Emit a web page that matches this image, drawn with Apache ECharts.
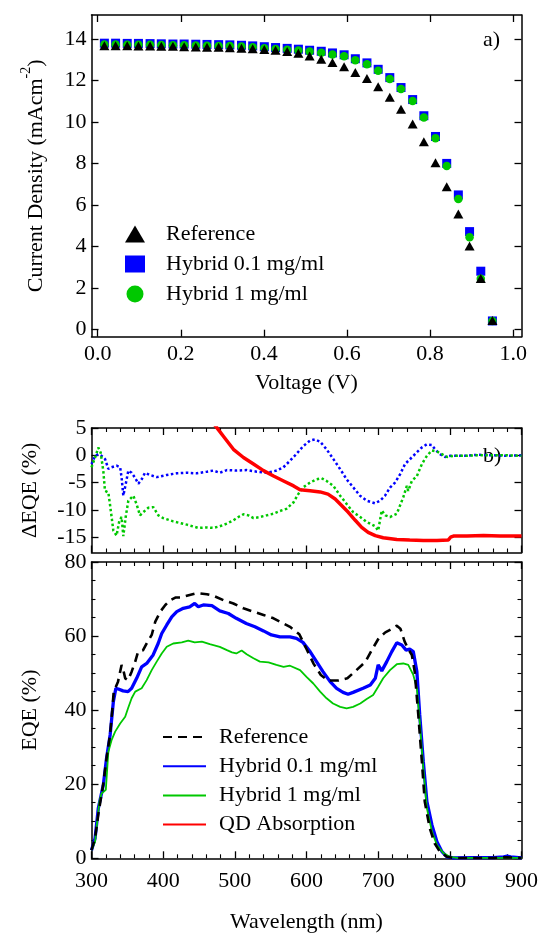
<!DOCTYPE html>
<html>
<head>
<meta charset="utf-8">
<script src="https://cdn.jsdelivr.net/npm/echarts@6.0.0/dist/echarts.min.js"></script>
<style>
  html, body { margin: 0; padding: 0; background: #fff; }
  #chart { width: 545px; height: 937px; }
</style>
</head>
<body>
<div id="chart"></div>
<script>
// ---- a) J–V curves ----
const voltage = [0.016, 0.043, 0.071, 0.098, 0.126, 0.153, 0.181, 0.208, 0.236, 0.263,
  0.291, 0.318, 0.346, 0.373, 0.401, 0.428, 0.456, 0.483, 0.510, 0.538,
  0.565, 0.593, 0.620, 0.648, 0.675, 0.703, 0.730, 0.758, 0.785, 0.813,
  0.840, 0.868, 0.895, 0.922, 0.950];
const jReference = [13.68, 13.68, 13.68, 13.67, 13.66, 13.65, 13.65, 13.63, 13.62, 13.61,
  13.60, 13.58, 13.56, 13.53, 13.50, 13.46, 13.40, 13.31, 13.18, 13.03,
  12.87, 12.66, 12.39, 12.10, 11.70, 11.19, 10.61, 9.90, 9.05, 8.03,
  6.88, 5.56, 4.02, 2.45, 0.42];
const jHybrid01 = [13.80, 13.80, 13.79, 13.79, 13.78, 13.77, 13.76, 13.76, 13.75, 13.74,
  13.73, 13.72, 13.70, 13.67, 13.63, 13.59, 13.55, 13.51, 13.46, 13.41,
  13.33, 13.24, 13.05, 12.85, 12.54, 12.14, 11.66, 11.08, 10.30, 9.30,
  8.00, 6.48, 4.71, 2.80, 0.40];
const jHybrid1 = [13.74, 13.74, 13.73, 13.73, 13.72, 13.71, 13.70, 13.70, 13.69, 13.68,
  13.67, 13.66, 13.64, 13.60, 13.56, 13.52, 13.48, 13.45, 13.40, 13.34,
  13.26, 13.17, 12.98, 12.78, 12.47, 12.07, 11.59, 11.01, 10.22, 9.21,
  7.87, 6.28, 4.44, 2.43, 0.40];
const voltageTicks = [0, 0.2, 0.4, 0.6, 0.8, 1.0];
const currentTicks = [0, 2, 4, 6, 8, 10, 12, 14];

// ---- b) EQE spectra ----
const wlReference = [300, 305, 310, 316, 321, 326, 329, 331, 334, 337, 342, 344.5, 347, 351, 356, 361, 365, 372, 377, 384,
  389, 396, 403, 410, 417, 424, 437, 445, 452, 461, 470, 484, 498, 512, 526, 540, 554, 563, 577, 590,
  600, 610, 620, 630, 645, 657, 668, 682, 692, 701, 710, 718, 726, 731, 737, 742, 747, 751, 756, 761,
  765, 772, 779, 786, 796, 805, 830, 860, 880, 900];
const eqeReference = [2.2, 5.5, 12.5, 19.5, 27, 33.5, 40, 45, 46.3, 47.7, 52.2, 50.8, 48.6, 48.1, 50.4, 53.1, 55.8, 56.2, 58, 60.3,
  63.9, 66.6, 68.4, 69.7, 70.4, 70.4, 71.1, 71.5, 71.5, 71.3, 70.9, 69.7, 68.8, 67.5, 66.6, 65.7, 64.8, 63.9, 62.5, 60.5,
  56.5, 52.5, 49.5, 48, 48, 48.6, 50.5, 53, 56.5, 59.5, 61, 61.8, 62.8, 62, 58.5, 56.5, 54.9, 50.4, 38.7, 26.1,
  15.3, 8.1, 4, 1.8, 0.4, 0.1, 0.1, 0.1, 0.3, 0.1];

const wlHybrid01 = [300, 305, 309.5, 316.5, 321, 326, 330.5, 334, 337.5, 344, 351, 356, 363, 370, 377, 386, 393, 398, 405, 412,
  419, 428, 437, 444, 449, 456, 468, 479, 491, 502, 516, 528, 540, 551, 563, 577, 586, 595, 605, 614,
  623, 633, 642, 651, 658, 665, 679, 689, 696, 700, 705, 712, 719, 726, 733, 739, 744, 749, 754, 758,
  763, 768, 775, 782, 789, 796, 805, 830, 860, 875, 880, 885, 900];
const eqeHybrid01 = [2.2, 5.4, 13.5, 19.8, 27, 33.3, 42.3, 45.9, 45.7, 45.2, 45.0, 45.9, 48.6, 51.7, 52.6, 54.9, 58, 60.7, 63, 65.2,
  66.6, 67.5, 67.9, 68.8, 67.9, 68.4, 68.2, 66.8, 66.1, 64.8, 63.4, 62.5, 61.4, 60.3, 59.8, 59.8, 59.4, 58.3, 55.8, 53.1,
  50.4, 47.7, 45.9, 44.8, 44.3, 44.8, 45.9, 46.8, 48.6, 52.2, 50.6, 53.1, 55.8, 58.2, 57.6, 56.2, 56.5, 55.8, 50.4, 38.7,
  26.1, 15.3, 9, 4.5, 1.8, 0.4, 0.1, 0.2, 0.2, 0.4, 0.6, 0.4, 0.1];

const wlHybrid1 = [300, 305, 311, 314, 320, 323.5, 328, 333, 340, 347, 351, 356, 361, 370, 377, 384, 391, 398, 405, 414,
  426, 435, 444, 454, 465, 479, 489, 496, 502, 509.5, 516.5, 526, 535, 547, 558, 568, 577, 591, 600, 609.5,
  619, 628, 637, 647, 656, 665, 675, 684, 693, 700, 707, 716.5, 726, 735, 742, 749, 754, 758, 763, 768,
  775, 782, 791, 800, 810, 850, 900];
const eqeHybrid1 = [2.2, 4.5, 15.3, 17.5, 18.5, 28.8, 31.9, 34.2, 36.4, 38.2, 40.5, 43.2, 45, 45.9, 48.1, 50.8, 53.1, 55.3, 57.1, 58,
  58.3, 58.8, 58.3, 58.5, 57.8, 57.1, 56.2, 55.6, 55.3, 56.1, 55.1, 54, 53.1, 52.9, 52.2, 51.7, 52, 50.8, 49, 47.2,
  45, 43.2, 41.8, 40.9, 40.5, 40.9, 41.8, 43, 44.1, 46.3, 48.6, 50.8, 52.4, 52.6, 52.2, 49.5, 45.9, 36.9, 24.3, 13.5,
  7.2, 3.6, 1.4, 0.4, 0.1, 0.1, 0.1];

// ---- b) ΔEQE relative to the reference cell ----
const wlDelta01 = [300, 305, 309.5, 314, 319, 323.5, 328, 335, 340, 342, 344.4, 347.7, 351.4, 356, 360.7, 365.4, 370, 374.6, 381.6, 391,
  405, 419, 433, 447, 461, 470, 479, 489, 502.5, 516.5, 530.5, 544.4, 558.4, 567.7, 577, 586.3, 595.6, 605, 612, 619,
  628, 637.5, 646.8, 656, 665.4, 674.7, 684, 695.6, 702.6, 709.6, 716.5, 723.5, 730.5, 737.5, 746.8, 753.7, 760.7, 767.7, 774.7, 779.3,
  786.3, 793.3, 800, 820, 840, 860, 880, 900];
const delta01 = [-1.6, -0.1, 0.2, -0.1, -0.7, -2.5, -2.2, -1.9, -2.2, -4.1, -7.4, -5.3, -2.8, -3.2, -4.1, -5.2, -4.4, -3.2, -3.6, -4,
  -3.6, -3.3, -3.2, -3.3, -3, -2.8, -3.2, -2.7, -2.8, -2.7, -3, -3.2, -2.8, -2.2, -1, 0.3, 1.7, 2.7, 2.9, 2.5,
  1.1, -0.7, -2.5, -4.4, -5.9, -7.4, -8.3, -8.8, -8.3, -7.4, -5.9, -5, -3.5, -1.6, -0.4, 0.5, 1.4, 2, 1.9, 1.1,
  0.2, -0.3, -0.1, -0.1, 0.1, 0, -0.1, 0];

const wlDelta1 = [300, 305, 309.5, 312.8, 316.5, 318.8, 323.5, 325.8, 330.5, 335, 338.8, 342, 344.4, 347.7, 351.4, 358.4, 363, 367.7, 372.3, 379.3,
  386.3, 393.3, 400, 414, 433, 449, 461, 470, 479, 489, 498, 505, 512, 519, 526, 535, 544, 554, 563, 572,
  582, 588, 595, 605, 614, 621, 628, 637.5, 647, 656, 665, 675, 684, 696, 700, 705, 710, 716.5, 726, 735,
  740, 742, 747, 754, 761, 768, 775, 782, 789, 796, 805, 819, 838, 860, 880, 900];
const delta1 = [-2.2, -0.4, 1.4, 0.5, -2.9, -6.5, -6.8, -9, -13.8, -14.7, -12, -11.3, -14.8, -11.3, -8.3, -7.4, -9, -11, -10.4, -9.6,
  -9.5, -11, -11.5, -12.1, -12.7, -13.3, -13.2, -13.3, -13, -12.5, -11.9, -11.3, -10.8, -11, -11.5, -11.3, -11, -10.7, -10.2, -9.8,
  -8.6, -7.2, -5.9, -5, -4.4, -4.2, -4.7, -5.6, -7.4, -8.9, -10.4, -11.3, -12.2, -13, -13.8, -10.1, -11, -11.3, -10.7, -7.7,
  -5.6, -6.5, -4.7, -3.8, -1.6, -0.1, 0.9, 0.7, 0.2, -0.3, -0.1, -0.1, 0, 0, 0, -0.1];

const wlAbsorption = [460, 470, 477, 484, 498, 512, 526, 540, 554, 568, 582, 591, 605, 619, 630, 640, 649, 658, 668, 677,
  686, 696, 707, 726, 744, 763, 782, 798, 801, 805, 824, 847, 870, 900];
const qdAbsorption = [7.6, 5.9, 4.7, 3.5, 1.1, -0.4, -1.6, -2.8, -3.8, -4.7, -5.6, -6.3, -6.5, -6.7, -7.1, -8, -9.2, -10.4, -11.9, -13.2,
  -14.1, -14.7, -15.1, -15.4, -15.5, -15.6, -15.6, -15.5, -15.0, -14.8, -14.8, -14.7, -14.8, -14.8];
const deltaTicks = [5, 0, -5, -10, -15];

// ---- styling ----
const FONT = '"Liberation Serif", "Times New Roman", serif';
const INK = '#000';
const BLUE = '#0000ff';
const GREEN = '#00c800';
const RED = '#ff0000';

const zip = (xs, ys) => xs.map((x, i) => [x, ys[i]]);
const textStyle = { color: INK, fontFamily: FONT, fontSize: 22 };
const frameLine = { show: true, onZero: false, lineStyle: { color: INK, width: 1.5 } };
const tick = (extra) => Object.assign({ show: true, inside: true, length: 7, lineStyle: { color: INK, width: 1.3 } }, extra);
const minor = (n) => ({ show: true, splitNumber: n, length: 4, lineStyle: { color: INK, width: 1.1 } });
const noSplit = { show: false };

const GRID_L = 91.5, GRID_R = 23.5;

const option = {
  animation: false,
  backgroundColor: '#fff',
  grid: [
    { left: GRID_L, right: GRID_R, top: 15, height: 321.7 },
    { left: GRID_L, right: GRID_R, top: 428, height: 124.5 },
    { left: GRID_L, right: GRID_R, top: 562, height: 296.3 }
  ],
  xAxis: [
    { gridIndex: 0, type: 'value', position: 'bottom', min: -0.015, max: 1.02,
      axisLine: frameLine, axisTick: tick({ customValues: voltageTicks }),
      axisLabel: Object.assign({ margin: 7, customValues: voltageTicks, formatter: v => v.toFixed(1) }, textStyle),
      splitLine: noSplit, name: 'Voltage (V)', nameLocation: 'middle', nameGap: 36, nameTextStyle: textStyle },
    { gridIndex: 0, type: 'value', position: 'top', min: -0.015, max: 1.02,
      axisLine: frameLine, axisTick: tick({ customValues: voltageTicks }),
      axisLabel: { show: false }, splitLine: noSplit },
    { gridIndex: 1, type: 'value', position: 'bottom', min: 300, max: 900, interval: 100,
      axisLine: frameLine, axisTick: tick(), minorTick: minor(5),
      axisLabel: { show: false }, splitLine: noSplit, minorSplitLine: noSplit },
    { gridIndex: 1, type: 'value', position: 'top', min: 300, max: 900, interval: 100,
      axisLine: frameLine, axisTick: tick(), minorTick: minor(5),
      axisLabel: { show: false }, splitLine: noSplit, minorSplitLine: noSplit },
    { gridIndex: 2, type: 'value', position: 'bottom', min: 300, max: 900, interval: 100,
      axisLine: frameLine, axisTick: tick(), minorTick: minor(5),
      axisLabel: Object.assign({ margin: 12 }, textStyle),
      splitLine: noSplit, minorSplitLine: noSplit,
      name: 'Wavelength (nm)', nameLocation: 'middle', nameGap: 53, nameTextStyle: textStyle },
    { gridIndex: 2, type: 'value', position: 'top', min: 300, max: 900, interval: 100,
      axisLine: frameLine, axisTick: tick(), minorTick: minor(5),
      axisLabel: { show: false }, splitLine: noSplit, minorSplitLine: noSplit }
  ],
  yAxis: [
    { gridIndex: 0, type: 'value', position: 'left', min: -0.36, max: 15.16,
      axisLine: frameLine, axisTick: tick({ customValues: currentTicks }),
      axisLabel: Object.assign({ margin: 5, customValues: currentTicks }, textStyle),
      splitLine: noSplit,
      name: '{t|Current Density (mAcm}{s|-2}{t|)}', nameLocation: 'middle', nameGap: 44, nameRotate: 90,
      nameTextStyle: Object.assign({}, textStyle, {
        rich: {
          t: { fontFamily: FONT, fontSize: 22, color: INK, lineHeight: 28, verticalAlign: 'bottom' },
          s: { fontFamily: FONT, fontSize: 14, color: INK, lineHeight: 14, verticalAlign: 'top' }
        }
      }) },
    { gridIndex: 0, type: 'value', position: 'right', min: -0.36, max: 15.16,
      axisLine: frameLine, axisTick: tick({ customValues: currentTicks }),
      axisLabel: { show: false }, splitLine: noSplit },
    { gridIndex: 1, type: 'value', position: 'left', min: -17.8, max: 5,
      axisLine: frameLine, axisTick: tick({ customValues: deltaTicks }),
      axisLabel: Object.assign({ margin: 5, customValues: deltaTicks }, textStyle),
      splitLine: noSplit,
      name: 'ΔEQE (%)', nameLocation: 'middle', nameGap: 50, nameRotate: 90, nameTextStyle: textStyle },
    { gridIndex: 1, type: 'value', position: 'right', min: -17.8, max: 5,
      axisLine: frameLine, axisTick: tick({ customValues: deltaTicks }),
      axisLabel: { show: false }, splitLine: noSplit },
    { gridIndex: 2, type: 'value', position: 'left', min: 0, max: 80, interval: 20,
      axisLine: frameLine, axisTick: tick(), minorTick: minor(4),
      axisLabel: Object.assign({ margin: 5 }, textStyle),
      splitLine: noSplit, minorSplitLine: noSplit,
      name: 'EQE (%)', nameLocation: 'middle', nameGap: 50, nameRotate: 90, nameTextStyle: textStyle },
    { gridIndex: 2, type: 'value', position: 'right', min: 0, max: 80, interval: 20,
      axisLine: frameLine, axisTick: tick(), minorTick: minor(4),
      axisLabel: { show: false }, splitLine: noSplit, minorSplitLine: noSplit }
  ],
  legend: [
    { orient: 'vertical', left: 120, top: 218, itemWidth: 20, itemHeight: 17, itemGap: 8,
      selectedMode: false, symbolKeepAspect: true,
      data: ['Reference', 'Hybrid 0.1 mg/ml', 'Hybrid 1 mg/ml'],
      textStyle: Object.assign({ padding: [0, 0, 0, 16], lineHeight: 22 }, textStyle) },
    { orient: 'vertical', left: 157, top: 721, itemWidth: 43, itemHeight: 14, itemGap: 7.2,
      selectedMode: false,
      itemStyle: { opacity: 0 },
      data: ['EQE Reference', 'EQE Hybrid 0.1 mg/ml', 'EQE Hybrid 1 mg/ml', 'QD Absorption'],
      formatter: n => n.replace(/^EQE /, ''),
      textStyle: Object.assign({ padding: [0, 0, 0, 8], lineHeight: 22 }, textStyle) }
  ],
  graphic: [
    { type: 'text', left: 483, top: 29, style: { text: 'a)', font: '22px ' + FONT, fill: INK } },
    { type: 'text', left: 483, top: 445, style: { text: 'b)', font: '22px ' + FONT, fill: INK } }
  ],
  series: [
    // J–V markers (squares under circles under triangles)
    { name: 'Hybrid 0.1 mg/ml', type: 'scatter', xAxisIndex: 0, yAxisIndex: 0,
      symbol: 'rect', symbolSize: 9, itemStyle: { color: BLUE, opacity: 1 }, data: zip(voltage, jHybrid01) },
    { name: 'Hybrid 1 mg/ml', type: 'scatter', xAxisIndex: 0, yAxisIndex: 0,
      symbol: 'circle', symbolSize: 8.5, itemStyle: { color: GREEN, opacity: 1 }, data: zip(voltage, jHybrid1) },
    { name: 'Reference', type: 'scatter', xAxisIndex: 0, yAxisIndex: 0,
      symbol: 'triangle', symbolSize: [10, 9], itemStyle: { color: INK, opacity: 1 }, data: zip(voltage, jReference) },

    // ΔEQE and QD absorption
    { name: 'ΔEQE Hybrid 0.1 mg/ml', type: 'line', xAxisIndex: 2, yAxisIndex: 2, symbol: 'none',
      lineStyle: { color: BLUE, width: 2.5, type: [2.5, 2.5] }, data: zip(wlDelta01, delta01) },
    { name: 'ΔEQE Hybrid 1 mg/ml', type: 'line', xAxisIndex: 2, yAxisIndex: 2, symbol: 'none',
      lineStyle: { color: GREEN, width: 2.5, type: [2.5, 2.5] }, data: zip(wlDelta1, delta1) },
    { name: 'QD Absorption', type: 'line', xAxisIndex: 2, yAxisIndex: 2, symbol: 'none', clip: true,
      lineStyle: { color: RED, width: 3.5 }, itemStyle: { color: RED }, data: zip(wlAbsorption, qdAbsorption) },

    // EQE spectra
    { name: 'EQE Hybrid 0.1 mg/ml', type: 'line', xAxisIndex: 4, yAxisIndex: 4, symbol: 'none',
      lineStyle: { color: BLUE, width: 3.3 }, itemStyle: { color: BLUE }, data: zip(wlHybrid01, eqeHybrid01) },
    { name: 'EQE Hybrid 1 mg/ml', type: 'line', xAxisIndex: 4, yAxisIndex: 4, symbol: 'none',
      lineStyle: { color: GREEN, width: 1.8 }, itemStyle: { color: GREEN }, data: zip(wlHybrid1, eqeHybrid1) },
    { name: 'EQE Reference', type: 'line', xAxisIndex: 4, yAxisIndex: 4, symbol: 'none',
      lineStyle: { color: INK, width: 2.6, type: [9, 6] }, itemStyle: { color: INK }, data: zip(wlReference, eqeReference) }
  ]
};

const chart = echarts.init(document.getElementById('chart'), null, { renderer: 'canvas' });
chart.setOption(option);
</script>
</body>
</html>
